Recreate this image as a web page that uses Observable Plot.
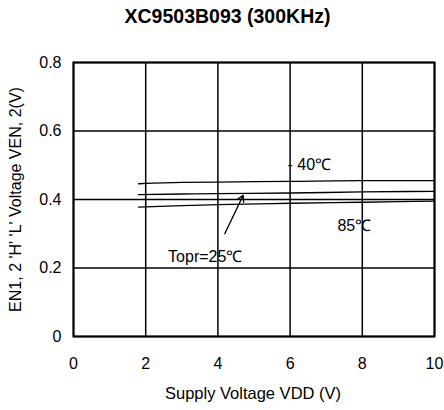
<!DOCTYPE html>
<html>
<head>
<meta charset="utf-8">
<script src="https://cdn.jsdelivr.net/npm/d3@7"></script>
<script src="https://cdn.jsdelivr.net/npm/@observablehq/plot@0.6"></script>
<style>
  body { margin: 0; background: #fff; font-family: "Liberation Sans", Arial, sans-serif; }
  #title { width: 444px; height: 36px; box-sizing: border-box; padding-left: 11px; padding-top: 0px; text-align: center; font-weight: bold; font-size: 19.5px; line-height: 32px; color: #000; }
  svg { display: block; }
</style>
</head>
<body>
<div id="title">XC9503B093 (300KHz)</div>
<div id="chart"></div>
<script>
// Supply voltage (V)
const vdd = [1.8, 3, 4, 6, 8, 10];
// EN1,2 'H' 'L' voltage (V) by temperature
const vMinus40 = [0.446, 0.450, 0.451, 0.453, 0.455, 0.455];
const v25 = [0.414, 0.416, 0.417, 0.419, 0.422, 0.424];
const v85 = [0.378, 0.382, 0.385, 0.389, 0.392, 0.395];
const seriesNames = ["-40", "25", "85"];

// Axis ticks
const xTicks = [0, 2, 4, 6, 8, 10];
const yTicks = [0, 0.2, 0.4, 0.6, 0.8];
const yTickLabels = ["0", "0.2", "0.4", "0.6", "0.8"];

// Annotations
const noteText = ["- 40\u2103", "85\u2103", "Topr=25\u2103"];
const noteX = [5.93, 7.31, 2.62];
const noteY = [0.502, 0.324, 0.232];
const arrowFrom = [4.19, 0.30];
const arrowTo = [4.70, 0.412];

const rows = [];
[vMinus40, v25, v85].forEach((vals, i) =>
  vals.forEach((v, j) => rows.push({series: seriesNames[i], x: vdd[j], y: v})));
const notes = noteText.map((t, i) => ({t, x: noteX[i], y: noteY[i]}));

const chart = Plot.plot({
  width: 444,
  height: 374,
  marginTop: 26,
  marginBottom: 74,
  marginLeft: 73,
  marginRight: 10,
  style: {fontFamily: "'Liberation Sans', Arial, sans-serif", fontSize: "16px", color: "#000", background: "#fff"},
  x: {domain: [0, 10], ticks: xTicks, tickSize: 0, tickPadding: 21, label: null},
  y: {domain: [0, 0.8], ticks: yTicks, tickFormat: (d) => yTickLabels[yTicks.indexOf(d)], tickSize: 0, tickPadding: 12, label: null},
  marks: [
    Plot.gridX(xTicks, {stroke: "#000", strokeOpacity: 1, strokeWidth: 1.5}),
    Plot.gridY(yTicks, {stroke: "#000", strokeOpacity: 1, strokeWidth: 1.5}),
    Plot.frame({stroke: "#000", strokeWidth: 2}),
    Plot.line(rows, {x: "x", y: "y", z: "series", stroke: "#000", strokeWidth: 1.3, curve: "monotone-x"}),
    Plot.text(notes, {x: "x", y: "y", text: "t", textAnchor: "start", fontSize: 16, fill: "#000"}),
    Plot.arrow([{x1: arrowFrom[0], y1: arrowFrom[1], x2: arrowTo[0], y2: arrowTo[1]}],
      {x1: "x1", y1: "y1", x2: "x2", y2: "y2", stroke: "#000", strokeWidth: 1.3, headLength: 8, bend: 0}),
    Plot.text(["Supply Voltage VDD (V)"], {frameAnchor: "bottom", textAnchor: "middle", lineAnchor: "middle", dy: 57, dx: -1, text: d => d, fontSize: 16.5, fill: "#000"}),
    Plot.text(["EN1, 2 'H' 'L' Voltage VEN, 2(V)"], {frameAnchor: "left", textAnchor: "middle", lineAnchor: "middle", dx: -58, dy: 0, rotate: -90, text: d => d, fontSize: 16, fill: "#000"})
  ]
});
document.getElementById("chart").appendChild(chart);
</script>
</body>
</html>
